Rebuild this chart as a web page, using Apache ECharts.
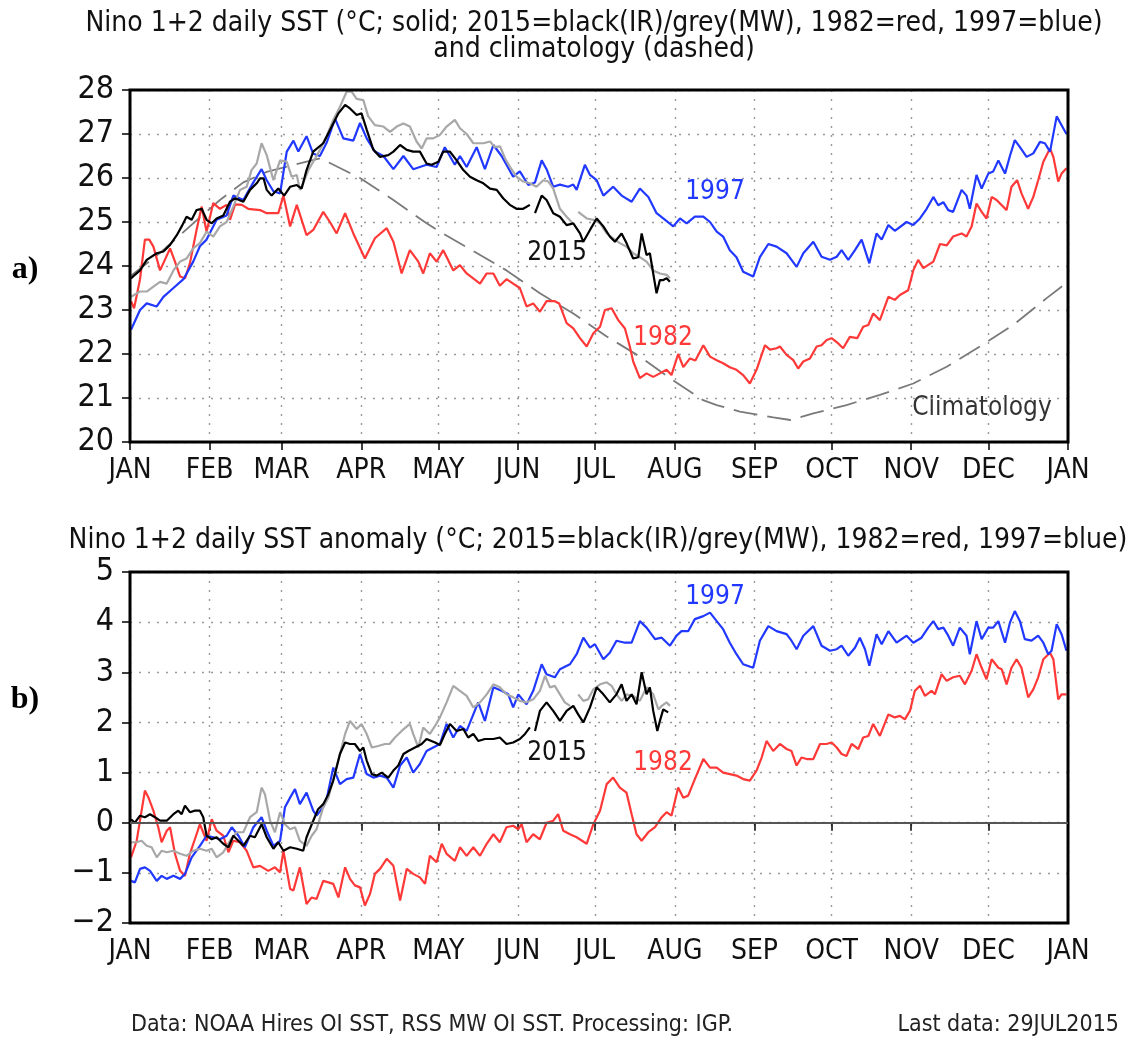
<!DOCTYPE html>
<html><head><meta charset="utf-8">
<script src="https://cdn.jsdelivr.net/npm/echarts@6/dist/echarts.min.js"></script>
<style>html,body{margin:0;padding:0;background:#fff}#c{width:1137px;height:1039px}</style>
</head><body><div id="c"></div>
<script>
// ---- axis definitions ----
const monthStarts = [0,31,59,90,120,151,181,212,243,273,304,334,365];
const monthLabels = ['JAN','FEB','MAR','APR','MAY','JUN','JUL','AUG','SEP','OCT','NOV','DEC','JAN'];
const sstTicks = [20,21,22,23,24,25,26,27,28];
const anomTicks = [-2,-1,0,1,2,3,4,5];

// ---- panel a: SST (day of year, degC) ----
const sst1997 = [[0.4,22.55],[3.9,23.0],[6.5,23.15],[10.4,23.08],[13,23.3],[16.9,23.5],[20.8,23.7],[24.6,24.1],[27.2,24.45],[29.8,24.6],[33.7,25.05],[37.6,25.15],[40.2,25.6],[44.1,25.5],[48,25.9],[51.2,26.2],[53.2,25.95],[55.8,25.7],[58.4,25.65],[61,26.6],[63.6,26.85],[65.5,26.6],[68.7,26.95],[71.3,26.55],[73.9,26.5],[76.5,26.8],[79.8,27.35],[83,26.9],[86.9,26.85],[89.5,27.25],[92.1,26.9],[95.3,26.6],[98.6,26.5],[102.5,26.2],[106.4,26.5],[110.2,26.2],[115.4,26.3],[119.3,26.25],[122.5,26.7],[126.4,26.3],[128.4,26.5],[131,26.25],[134.9,26.7],[138.1,26.2],[141.4,26.75],[144.6,26.5],[146.5,26.3],[149.1,26.03],[151.7,26.15],[155,25.84],[157.6,25.9],[160.2,26.4],[162.1,26.2],[164.7,25.8],[167.3,25.85],[170.5,25.8],[172.5,25.85],[173.8,25.73],[177,26.3],[179,26.07],[181.6,25.95],[184.2,25.6],[188,25.8],[191.3,25.6],[195.2,25.46],[198.4,25.76],[201.7,25.57],[204.9,25.2],[207.5,25.08],[211.4,24.9],[214,25.08],[216.6,24.97],[219.8,25.12],[223.1,25.12],[225.7,25.0],[228.3,24.78],[230.8,24.67],[233.4,24.36],[236,24.2],[238.6,23.87],[242.5,23.76],[245.1,24.2],[248.4,24.5],[251.6,24.44],[255.5,24.29],[257.4,24.14],[259.4,23.98],[262,24.29],[265.9,24.55],[269.1,24.21],[272.4,24.14],[275,24.21],[276.9,24.36],[279.5,24.14],[282.1,24.36],[284.7,24.6],[287.7,24.06],[290.5,24.74],[292.5,24.6],[295.1,24.93],[297.6,24.8],[302.2,25.0],[304.8,24.93],[307.4,25.08],[310,25.3],[312.6,25.57],[314.5,25.38],[316.5,25.45],[318.4,25.27],[320.3,25.23],[323.6,25.73],[325.5,25.6],[326.8,25.3],[329.4,26.07],[331.4,25.76],[334,26.1],[335.9,26.15],[337.9,26.4],[340.5,26.1],[342.4,26.5],[344.3,26.86],[346.3,26.7],[348.9,26.48],[351.5,26.56],[354.1,26.82],[356,26.79],[358,26.6],[360.6,27.4],[362.5,27.2],[364.4,27.0]];

const sst1982 = [[0.4,23.2],[1.6,23.04],[3.9,23.7],[5.8,24.6],[7.5,24.6],[9.1,24.44],[11.7,23.9],[15.6,24.4],[17.5,24.1],[19.5,23.76],[21.4,23.72],[23.3,24.06],[25.9,24.82],[27.9,25.35],[29.8,24.78],[32.4,25.43],[35,25.3],[37.6,25.39],[38.9,25.05],[40.9,25.4],[43.5,25.39],[46,25.3],[50.6,25.27],[53.2,25.2],[57.7,25.2],[59.7,25.6],[62.3,24.9],[64.9,25.39],[68.7,24.7],[71.3,24.82],[75.2,25.23],[77.8,25.0],[80.4,24.74],[83.7,25.2],[86.9,24.74],[91.4,24.17],[95.3,24.63],[99.9,24.86],[102.5,24.55],[105.7,23.83],[108.9,24.36],[112.2,24.1],[114.1,23.83],[116.7,24.29],[119.3,24.1],[121.9,24.36],[125.8,23.9],[128.4,24.02],[131,23.83],[136.2,23.6],[138.8,23.83],[141.4,23.83],[143.9,23.55],[146.5,23.7],[149.1,23.6],[151.7,23.5],[154.3,23.08],[156.9,23.15],[159.5,22.96],[162.1,23.2],[165.3,23.2],[167,23.15],[169.9,22.7],[172.5,22.58],[175.1,22.36],[177.7,22.17],[180.3,22.47],[182.9,22.62],[184.8,23.0],[187.4,23.04],[190,22.77],[192.6,22.58],[194.5,22.17],[195.8,21.83],[198.4,21.45],[201,21.56],[203.6,21.48],[206.2,21.56],[208.8,21.64],[210.7,21.52],[213.3,22.0],[215.3,21.7],[217.9,21.9],[220,21.85],[223.1,22.2],[225.7,21.94],[228.3,21.86],[230.8,21.79],[233.4,21.7],[236,21.64],[238.6,21.52],[241.2,21.33],[243.8,21.64],[247.1,22.2],[249,22.1],[251.6,22.13],[252.9,22.17],[255.5,21.98],[258.1,21.86],[260,21.67],[262,21.83],[264.6,21.9],[267.2,22.17],[269.1,22.2],[271.1,22.32],[273,22.36],[275.6,22.24],[277.5,22.13],[280.1,22.39],[283,22.36],[285.3,22.62],[287.3,22.66],[289.2,22.92],[291.8,22.77],[295.1,23.3],[297.6,23.23],[299.6,23.34],[302.8,23.45],[304.8,23.9],[306.7,24.14],[308.7,23.95],[312.6,24.1],[315.2,24.5],[317.8,24.47],[320.3,24.67],[323.6,24.74],[325.5,24.67],[327.5,24.9],[329.4,25.42],[331.4,25.23],[333.3,25.08],[335.3,25.57],[337.2,25.5],[341.1,25.27],[343,25.8],[345.2,25.95],[346.9,25.65],[349.5,25.3],[351.5,25.57],[353.4,25.95],[355.4,26.37],[358,26.67],[359.3,26.48],[361.2,25.92],[362.5,26.1],[364.4,26.22]];

const sst2015IR = [[0.4,23.72],[1.9,23.8],[3.9,23.9],[6.5,24.14],[10.4,24.29],[13,24.33],[15.6,24.48],[18.2,24.7],[20.1,24.9],[22,25.12],[24,25.05],[25.9,25.27],[27.9,25.3],[29.8,25.05],[31.8,24.97],[33.7,25.08],[36.3,25.15],[38.9,25.46],[40.9,25.54],[44.1,25.46],[46.7,25.73],[49.3,25.88],[50.6,25.99],[52,25.99],[53.2,25.73],[55.1,25.6],[57.7,25.76],[60,25.6],[62.3,25.8],[64.9,25.84],[66.8,25.76],[68.7,26.18],[71.3,26.6],[75.2,26.79],[78.5,27.17],[81.1,27.47],[83.7,27.66],[85.6,27.58],[88.2,27.43],[90.1,27.47],[92.1,27.1],[94.7,26.64],[97.3,26.48],[100.5,26.52],[102.5,26.6],[105.1,26.75],[107.7,26.64],[110.2,26.6],[112.8,26.6],[115.4,26.33],[117.4,26.3],[120,26.37],[121.9,26.6],[124.5,26.6],[127.1,26.4],[129.7,26.18],[132.3,26.03],[134.9,25.95],[137.5,25.88],[140.1,25.76],[142.7,25.73],[145.2,25.54],[147.8,25.39],[150.4,25.3],[153,25.3],[155.6,25.39],[156.6,null],[157.6,25.2],[160.2,25.6],[162.1,25.5],[164.7,25.2],[167.3,25.12],[169.9,24.93],[172.5,24.97],[175.1,24.74],[176.4,24.55],[179,24.82],[181.6,25.08],[184.2,24.9],[186.7,24.67],[188.7,24.55],[191.3,24.74],[193.2,24.52],[195.8,24.17],[197.8,24.2],[199.1,24.74],[201,24.25],[202.3,24.29],[203.6,23.83],[204.9,23.38],[206.2,23.68],[207.5,23.68],[208.8,23.72],[210.1,23.64]];

const sst2015MW = [[0.4,23.3],[3.9,23.42],[6.5,23.42],[9.1,23.53],[11.7,23.64],[14.3,23.6],[16.9,23.9],[19.5,24.1],[22,24.17],[24.6,24.4],[27.2,24.52],[29.8,24.78],[32.4,24.67],[35,24.9],[37.6,25.0],[40.2,25.35],[42.8,25.73],[45.4,25.8],[47.3,26.18],[49.3,26.33],[51.2,26.79],[53.2,26.52],[55.8,25.95],[58.4,26.4],[61,26.37],[62.9,26.03],[64.9,26.07],[66.1,25.73],[67.4,25.88],[69.4,26.18],[71.3,26.37],[73.9,26.64],[76.5,26.95],[79.1,27.32],[81.7,27.62],[84.3,27.96],[86.3,27.96],[88.2,27.8],[90.8,27.77],[92.7,27.4],[95.3,27.2],[98.6,27.17],[101.2,27.05],[103.8,27.17],[106.4,27.24],[108.9,27.17],[111.5,26.83],[113.5,26.67],[115.4,26.9],[118,26.9],[120.6,26.98],[123.2,27.17],[126.4,27.32],[128.4,27.13],[131,27.0],[133.6,26.79],[137.5,26.79],[140.1,26.83],[142,26.7],[144,26.72],[145.9,26.45],[147.8,26.26],[150.4,26.03],[153,25.92],[155.6,25.88],[158.2,25.8],[160.8,25.95],[162.8,25.92],[164.7,25.76],[167.3,25.3],[169.9,25.12],[171.8,25.0],[173,null],[174.4,25.23],[177.7,25.08],[180.3,25.05],[182.9,24.97],[185.5,24.74],[188,24.63],[190.6,24.52],[193.2,24.44],[195.8,24.29],[198.4,24.2],[201,24.1],[203.6,23.9],[206.2,23.83],[208.8,23.8],[210.1,23.72]];

const sstClim = [[0,23.76],[11.7,24.3],[24.6,24.97],[35,25.5],[44.1,25.9],[53.2,26.14],[63.6,26.3],[74,26.45],[89.5,26.0],[102.5,25.5],[115.4,24.97],[120.6,24.78],[133.6,24.34],[146.5,23.9],[159.5,23.38],[172.5,22.92],[185.5,22.4],[198.4,21.94],[211.4,21.4],[223,20.95],[228.3,20.84],[237.3,20.69],[250.3,20.56],[257,20.5],[265.9,20.65],[278.8,20.84],[291.8,21.07],[304.8,21.33],[317.8,21.71],[330.7,22.17],[343.7,22.66],[356.7,23.27],[365,23.64]];

// ---- panel b: SST anomaly (day of year, degC) ----
const anom1997 = [[0.4,-1.16],[1.9,-1.19],[3.9,-0.92],[5.8,-0.89],[7.8,-0.96],[10.4,-1.16],[12.3,-1.06],[14.3,-1.12],[16.9,-1.06],[19.5,-1.12],[21.4,-1.02],[24,-0.69],[27.2,-0.46],[29.8,-0.26],[32.4,-0.29],[35,-0.33],[37.6,-0.26],[39.6,-0.09],[42.2,-0.26],[44.7,-0.49],[48,-0.09],[51.2,0.11],[53.2,-0.16],[55.8,-0.46],[58.4,-0.36],[60.3,0.31],[62.3,0.5],[64.2,0.67],[66.1,0.37],[68.7,0.6],[71.3,0.24],[72.6,0.14],[75.2,0.31],[76.5,0.47],[79.1,1.1],[81.7,0.77],[84.3,0.87],[86.9,0.9],[89.5,1.37],[92.1,0.97],[94.7,0.9],[97.3,0.94],[99.9,0.9],[102.5,0.7],[105.1,1.14],[107.7,1.3],[110.2,1.0],[112.8,1.17],[115.4,1.43],[118,1.5],[120.6,1.57],[123.2,1.97],[125.8,1.7],[128.4,1.93],[131,1.83],[133.6,2.16],[135.5,2.4],[138.1,2.03],[141.4,2.7],[144.6,2.63],[147.2,2.56],[149.1,2.3],[151.1,2.56],[154.3,2.36],[156.9,2.63],[160.2,3.16],[162.1,2.96],[165.3,2.9],[167.3,3.06],[171.2,3.16],[173.8,3.36],[176.4,3.69],[179,3.49],[180.9,3.56],[184.2,3.26],[186.7,3.39],[189.3,3.63],[192.6,3.59],[195.2,3.59],[198.4,4.02],[201,3.89],[204.3,3.66],[206.9,3.69],[210.1,3.53],[212.7,3.73],[214.6,3.82],[217.2,3.82],[219.8,4.06],[223.1,4.12],[225.7,4.19],[228.3,4.02],[230.8,3.86],[233.4,3.59],[236,3.36],[238.6,3.16],[242.5,3.09],[245.1,3.63],[248.4,3.92],[251.6,3.82],[255.5,3.76],[257.4,3.63],[259.4,3.46],[262,3.73],[265.9,3.92],[269.1,3.53],[272.4,3.43],[275,3.46],[276.9,3.53],[279.5,3.33],[282.1,3.49],[284,3.69],[286,3.46],[287.7,3.13],[290.5,3.76],[292.5,3.56],[295.1,3.82],[298.3,3.59],[302.2,3.73],[304.8,3.59],[308,3.69],[310.6,3.89],[312.6,4.02],[314.5,3.86],[316.5,3.89],[318.4,3.73],[320.3,3.53],[322.9,3.89],[325.5,3.73],[326.8,3.36],[329.4,4.02],[331.4,3.66],[334,3.89],[335.9,3.89],[337.9,4.02],[340.5,3.59],[342.4,3.99],[344.3,4.22],[346.3,4.02],[348.2,3.66],[350.8,3.63],[353.4,3.73],[355.4,3.59],[357.3,3.36],[358.6,3.43],[360.6,3.96],[362.5,3.76],[364.4,3.43]];

const anom1982 = [[0.4,-0.69],[2.6,-0.36],[5.8,0.64],[7.2,0.5],[9.1,0.24],[11,-0.09],[12.3,-0.39],[14.3,-0.16],[15.6,-0.09],[17.5,-0.62],[19.5,-0.96],[21.4,-1.06],[23.3,-0.62],[25.9,-0.23],[27.2,-0.03],[29.8,-0.36],[31.8,0.07],[33.7,-0.16],[36.3,-0.26],[38.3,-0.59],[40.2,-0.36],[42.8,-0.39],[45.4,-0.56],[48,-0.89],[50.6,-0.86],[53.8,-0.96],[56.4,-0.89],[58.4,-0.99],[59.7,-0.56],[62.3,-1.32],[63.6,-1.35],[66.1,-0.89],[68.7,-1.62],[70.7,-1.49],[72.6,-1.52],[75.2,-1.16],[77.2,-1.19],[79.1,-1.22],[81.1,-1.49],[83.7,-0.89],[85.6,-1.12],[87.5,-1.25],[89.5,-1.29],[91.4,-1.65],[93.4,-1.42],[95.3,-1.02],[97.3,-0.92],[99.9,-0.72],[102.5,-0.86],[105.1,-1.55],[107.7,-0.92],[110.2,-1.02],[112.8,-1.09],[114.8,-1.22],[116.7,-0.66],[119.3,-0.79],[121.3,-0.42],[123.2,-0.62],[126.4,-0.76],[128.4,-0.49],[131,-0.66],[133.6,-0.49],[136.2,-0.66],[138.8,-0.42],[141.4,-0.23],[143.9,-0.39],[146.5,-0.09],[149.1,-0.06],[151.1,-0.13],[152.4,-0.03],[154.3,-0.39],[156.9,-0.23],[159.5,-0.33],[162.1,0.0],[164.7,0.04],[166.6,0.17],[168.6,-0.16],[171.2,-0.23],[173.8,-0.29],[177.7,-0.42],[180.3,-0.03],[182.9,0.24],[185.5,0.77],[188,0.9],[190.6,0.7],[193.2,0.6],[195.2,0.17],[197.1,-0.23],[199.1,-0.36],[201.7,-0.19],[204.3,-0.09],[206.9,0.11],[208.8,0.21],[210.7,0.14],[213.3,0.7],[215.3,0.5],[217.2,0.54],[219.8,0.87],[223.1,1.27],[225.7,1.1],[228.3,1.1],[230.8,1.0],[233.4,0.97],[236,0.94],[238.6,0.87],[241.2,0.84],[243.8,1.04],[245.8,1.3],[247.7,1.63],[250.3,1.43],[252.9,1.57],[255.5,1.47],[257.4,1.43],[259.4,1.14],[261.3,1.3],[263.3,1.27],[265.9,1.27],[268.5,1.57],[271,1.57],[273,1.6],[275,1.5],[276.9,1.37],[278.8,1.33],[280.8,1.57],[283.4,1.47],[285.3,1.7],[287.3,1.73],[289.2,1.97],[291.8,1.73],[295.1,2.16],[297.6,2.1],[299.6,2.13],[301.5,2.06],[303.5,2.23],[305.4,2.63],[307.4,2.73],[309.3,2.53],[311.9,2.63],[313.2,2.56],[315.8,2.96],[317.8,2.83],[320.3,2.9],[322.9,2.93],[324.9,2.76],[327.5,3.03],[329.4,3.36],[331.4,3.09],[333.3,2.86],[335.3,3.26],[337.9,3.09],[339.2,3.06],[341.1,2.76],[343,3.09],[345,3.26],[346.9,3.09],[349.5,2.5],[351.5,2.66],[353.4,2.9],[355.4,3.26],[358,3.39],[359.3,3.26],[361.2,2.46],[362.5,2.56],[364.4,2.56]];

const anom2015IR = [[0.4,0.07],[1.9,0.0],[3.9,0.14],[5.8,0.11],[7.8,0.17],[9.7,0.11],[11.7,0.04],[14.3,0.04],[16.9,0.17],[18.8,0.24],[20.1,0.17],[21.4,0.34],[23.3,0.21],[25.3,0.24],[27.2,0.24],[28.5,0.11],[29.8,-0.26],[31.8,-0.33],[33.7,-0.29],[36.3,-0.42],[38.3,-0.49],[40.2,-0.26],[42.2,-0.36],[44.1,-0.46],[46.7,-0.26],[48.6,-0.29],[51.2,-0.03],[53.2,-0.29],[55.8,-0.52],[57.7,-0.39],[59.7,-0.56],[62.3,-0.49],[64.9,-0.52],[67.4,-0.56],[68.7,-0.29],[71.3,0.04],[73.2,0.27],[75.2,0.37],[77.2,0.57],[79.1,0.84],[81.7,1.37],[83.7,1.6],[85.6,1.57],[87.5,1.57],[89.5,1.43],[90.8,1.5],[92.1,1.24],[94.1,0.97],[96,0.94],[97.9,1.0],[100.5,0.9],[102.5,1.04],[104.4,1.14],[106.4,1.37],[108.3,1.43],[110.9,1.5],[113.5,1.57],[115.4,1.67],[118.7,1.6],[120.6,1.55],[122.5,1.77],[124.5,1.97],[127.1,1.83],[129.7,1.87],[131.6,1.7],[133.6,1.77],[135.5,1.63],[138.1,1.67],[141.4,1.67],[143.9,1.7],[146.5,1.57],[149.1,1.6],[151.7,1.67],[153.7,1.77],[155.6,1.9],[156.6,null],[157.6,1.83],[159.5,2.23],[162.1,2.4],[164.7,2.23],[167.3,2.03],[169.9,2.23],[172.5,2.33],[174.4,2.16],[176.4,2.0],[179,2.3],[181.6,2.7],[184.2,2.56],[186.7,2.4],[189.3,2.56],[191.3,2.76],[193.2,2.43],[195.2,2.56],[197.1,2.36],[199.1,3.0],[201,2.56],[202.3,2.7],[203.6,2.23],[205.2,1.83],[206.2,2.03],[207.5,2.26],[209.4,2.2]];

const anom2015MW = [[0.4,-0.39],[2.5,-0.39],[4.5,-0.36],[6.5,-0.46],[8.4,-0.49],[10.4,-0.69],[12.3,-0.56],[14.3,-0.59],[16.9,-0.56],[19.5,-0.62],[22,-0.66],[24.6,-0.56],[27.2,-0.52],[29.8,-0.56],[31.8,-0.52],[33.7,-0.69],[36.3,-0.59],[38.9,-0.36],[41.5,-0.19],[44.1,-0.19],[46.7,0.11],[49.3,0.21],[51.2,0.7],[52.5,0.57],[54.5,0.04],[56.4,-0.19],[58.4,0.21],[60.3,-0.03],[62.3,-0.13],[64.2,-0.09],[66.1,-0.36],[68.7,-0.46],[70.7,-0.26],[72.6,-0.13],[75.2,0.31],[77.2,0.5],[79.1,0.87],[81.7,1.37],[83.7,1.77],[85.6,2.03],[88.2,1.87],[90.1,1.97],[92.1,1.77],[94.1,1.5],[96.6,1.53],[99.2,1.57],[101,1.57],[103.1,1.7],[105.7,1.83],[108.9,1.97],[110.2,1.77],[112.2,1.5],[114.1,1.9],[116.7,1.77],[118.7,1.93],[120.6,2.1],[123.2,2.4],[125.8,2.73],[128.4,2.63],[131,2.53],[133.6,2.3],[136.2,2.4],[138.8,2.56],[141.4,2.76],[143.9,2.7],[146.5,2.56],[149.1,2.5],[151.7,2.43],[154.3,2.4],[156.9,2.46],[159.5,2.63],[161.5,2.93],[163.4,2.7],[165.3,2.73],[167.3,2.56],[169.2,2.4],[171.2,2.33],[172.8,null],[174.4,2.56],[176.4,2.43],[178.3,2.46],[180.3,2.66],[182.9,2.76],[185.5,2.8],[187.4,2.73],[189.3,2.56],[191.3,2.43],[193.2,2.56],[195.8,2.53],[198.4,2.43],[201,2.7],[203.6,2.56],[205.6,2.26],[206.9,2.33],[208.8,2.4],[210.1,2.33]];

// ---- texts ----
const titleA1 = 'Nino 1+2 daily SST (\u00B0C; solid; 2015=black(IR)/grey(MW), 1982=red, 1997=blue)';
const titleA2 = 'and climatology (dashed)';
const titleB = 'Nino 1+2 daily SST anomaly (\u00B0C; 2015=black(IR)/grey(MW), 1982=red, 1997=blue)';
const footLeft = 'Data: NOAA Hires OI SST, RSS MW OI SST. Processing: IGP.';
const footRight = 'Last data: 29JUL2015';

// ---- styling ----
const FONT = "'Liberation Sans Narrow','DejaVu Sans Condensed','Arial Narrow',sans-serif";
const RED = '#ff3838', BLUE = '#2038ff', GREY = '#a8a8a8', BLACK = '#000000';

function xAxisDef(gi) {
  return {
    type: 'value', gridIndex: gi, min: 0, max: 365,
    axisLine: { show: false },
    axisTick: { show: true, customValues: monthStarts, length: 8, inside: false, lineStyle: { color: '#000', width: 1.5 } },
    axisLabel: { customValues: monthStarts, margin: 15, fontFamily: FONT, fontSize: 28, color: '#111',
      formatter: v => monthLabels[monthStarts.indexOf(v)] },
    splitLine: { show: true, lineStyle: { color: '#9a9a9a', type: [2, 7], width: 1.4 } }
  };
}
function yAxisDef(gi, mn, mx) {
  return {
    type: 'value', gridIndex: gi, min: mn, max: mx, interval: 1,
    axisLine: { show: false },
    axisTick: { show: true, length: 8, lineStyle: { color: '#000', width: 1.5 } },
    axisLabel: { margin: 16, fontFamily: FONT, fontSize: 32, color: '#111',
      formatter: v => v < 0 ? '\u2212' + Math.abs(v) : String(v) },
    splitLine: { show: true, lineStyle: { color: '#9a9a9a', type: [2, 7], width: 1.4 } }
  };
}
function line(name, data, color, xi, yi, extra) {
  return Object.assign({
    type: 'line', name, data, xAxisIndex: xi, yAxisIndex: yi,
    showSymbol: false, symbol: 'none', connectNulls: false, animation: false, silent: true,
    lineStyle: { color, width: 2.2 }
  }, extra || {});
}
function txt(x, y, text, size, color) {
  return { type: 'text', x, y, silent: true,
    style: { text, fontFamily: FONT, fontSize: size, fill: color, align: 'center', verticalAlign: 'middle' } };
}

const chart = echarts.init(document.getElementById('c'), null, { renderer: 'canvas' });
chart.setOption({
  backgroundColor: '#ffffff',
  animation: false,
  grid: [
    { left: 130, top: 90, width: 938, height: 352, show: true, borderColor: '#000', borderWidth: 3, backgroundColor: 'transparent', z: 5 },
    { left: 130, top: 572, width: 938, height: 351, show: true, borderColor: '#000', borderWidth: 3, backgroundColor: 'transparent', z: 5 }
  ],
  xAxis: [xAxisDef(0), xAxisDef(1)],
  yAxis: [yAxisDef(0, 20, 28), yAxisDef(1, -2, 5)],
  series: [
    line('Climatology', sstClim, '#7a7a7a', 0, 0, { lineStyle: { color: '#7a7a7a', width: 1.8, type: [24, 10] } }),
    line('1982', sst1982, RED, 0, 0),
    line('1997', sst1997, BLUE, 0, 0),
    line('2015 MW', sst2015MW, GREY, 0, 0),
    line('2015 IR', sst2015IR, BLACK, 0, 0),
    line('1982 anom', anom1982, RED, 1, 1, {
      markLine: { silent: true, symbol: 'none', label: { show: false }, animation: false,
        lineStyle: { color: '#555', type: 'solid', width: 2 }, data: [{ yAxis: 0 }] } }),
    line('1997 anom', anom1997, BLUE, 1, 1),
    line('2015 MW anom', anom2015MW, GREY, 1, 1),
    line('2015 IR anom', anom2015IR, BLACK, 1, 1)
  ],
  graphic: [
    txt(594, 24, titleA1, 28, '#111'),
    txt(594, 50, titleA2, 28, '#111'),
    txt(598, 541, titleB, 28, '#111'),
    txt(715, 192, '1997', 26, BLUE),
    txt(557, 253, '2015', 26, '#111'),
    txt(663, 338, '1982', 26, RED),
    txt(982, 408, 'Climatology', 26, '#333'),
    txt(715, 597, '1997', 26, BLUE),
    txt(557, 753, '2015', 26, '#111'),
    txt(663, 763, '1982', 26, RED),
    { type: 'text', x: 25, y: 270, silent: true, style: { text: 'a)', fontFamily: "'Liberation Serif','Times New Roman',serif", fontWeight: 'bold', fontSize: 32, fill: '#000', align: 'center', verticalAlign: 'middle' } },
    { type: 'text', x: 25, y: 700, silent: true, style: { text: 'b)', fontFamily: "'Liberation Serif','Times New Roman',serif", fontWeight: 'bold', fontSize: 32, fill: '#000', align: 'center', verticalAlign: 'middle' } },
    { type: 'text', x: 131, y: 1025, silent: true, style: { text: footLeft, fontFamily: FONT, fontSize: 23, fill: '#222', align: 'left', verticalAlign: 'middle' } },
    { type: 'text', x: 1119, y: 1025, silent: true, style: { text: footRight, fontFamily: FONT, fontSize: 23, fill: '#222', align: 'right', verticalAlign: 'middle' } }
  ]
});
</script>
</body></html>
